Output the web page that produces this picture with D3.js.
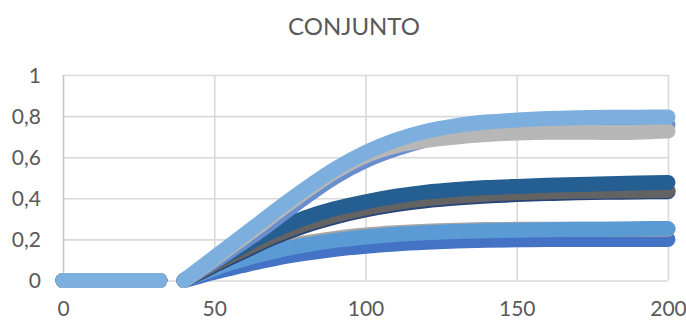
<!DOCTYPE html>
<html>
<head>
<meta charset="utf-8">
<script src="https://cdn.jsdelivr.net/npm/d3@7/dist/d3.min.js"></script>
<style>
  html, body { margin: 0; padding: 0; background: #ffffff; }
  svg { display: block; }
  text { font-family: Lato, "Open Sans", "Liberation Sans", sans-serif; fill: #595959; }
</style>
</head>
<body>
<svg id="chart" width="686" height="320"></svg>
<script>
// ---- data ----
const chartTitle = "CONJUNTO";
const xTicks = [0, 50, 100, 150, 200];
const xTickLabels = ["0", "50", "100", "150", "200"];
const yTicks = [0, 0.2, 0.4, 0.6, 0.8, 1];
const yTickLabels = ["0", "0,2", "0,4", "0,6", "0,8", "1"];

// idle stretch before the rise
const flatX = [0, 8, 16, 24, 32];
const flatY = [0, 0, 0, 0, 0];

// rising stretch
const riseX = [40, 45, 50, 55, 60, 65, 70, 80, 90, 100, 110, 120, 130, 140, 150, 160, 170, 180, 190, 200];

const royal   = [0, 0.020, 0.040, 0.058, 0.075, 0.092, 0.107, 0.132, 0.152, 0.167, 0.178, 0.186, 0.192, 0.196, 0.198, 0.199, 0.200, 0.200, 0.200, 0.200];
const silver  = [0, 0.033, 0.065, 0.092, 0.116, 0.137, 0.155, 0.183, 0.205, 0.221, 0.232, 0.240, 0.245, 0.248, 0.249, 0.250, 0.250, 0.250, 0.250, 0.250];
const sky     = [0, 0.030, 0.058, 0.083, 0.105, 0.125, 0.143, 0.172, 0.195, 0.212, 0.224, 0.232, 0.238, 0.242, 0.245, 0.247, 0.249, 0.250, 0.252, 0.253];
const navy    = [0, 0.036, 0.073, 0.108, 0.143, 0.178, 0.211, 0.266, 0.309, 0.343, 0.369, 0.388, 0.401, 0.411, 0.418, 0.423, 0.427, 0.429, 0.431, 0.432];
const graphite= [0, 0.040, 0.080, 0.117, 0.152, 0.187, 0.220, 0.275, 0.318, 0.352, 0.378, 0.397, 0.410, 0.420, 0.427, 0.431, 0.434, 0.436, 0.437, 0.438];
const steel   = [0, 0.045, 0.090, 0.130, 0.170, 0.210, 0.245, 0.305, 0.350, 0.383, 0.410, 0.430, 0.443, 0.452, 0.458, 0.463, 0.467, 0.471, 0.474, 0.477];
const cornflower = [0, 0.046, 0.092, 0.140, 0.190, 0.240, 0.295, 0.405, 0.505, 0.583, 0.640, 0.684, 0.715, 0.735, 0.748, 0.755, 0.758, 0.758, 0.758, 0.758];
const ash     = [0, 0.052, 0.105, 0.158, 0.212, 0.267, 0.323, 0.431, 0.530, 0.607, 0.655, 0.682, 0.698, 0.710, 0.718, 0.722, 0.722, 0.720, 0.722, 0.727];
const azure   = [0, 0.056, 0.112, 0.168, 0.224, 0.280, 0.337, 0.445, 0.543, 0.623, 0.683, 0.726, 0.754, 0.771, 0.781, 0.788, 0.792, 0.794, 0.795, 0.796];

// painted bottom to top
const seriesList = [
  { values: royal,      color: "#4472C4" },
  { values: silver,     color: "#A5A5A5" },
  { values: sky,        color: "#5B9BD5" },
  { values: navy,       color: "#264478" },
  { values: graphite,   color: "#636363" },
  { values: steel,      color: "#255E91" },
  { values: cornflower, color: "#698ED0" },
  { values: ash,        color: "#B7B7B7" },
  { values: azure,      color: "#7CAFDD" }
];

// ---- layout ----
const svg = d3.select("#chart");
const plotLeft = 63, plotRight = 668, plotTop = 75, plotBottom = 280.5;

const x = d3.scaleLinear().domain([0, 200]).range([plotLeft, plotRight]);
const y = d3.scaleLinear().domain([0, 1]).range([plotBottom, plotTop]);

// title
svg.append("text")
  .attr("x", 354)
  .attr("y", 35)
  .attr("text-anchor", "middle")
  .style("font-size", "24px")
  .text(chartTitle);

// horizontal gridlines + y labels
const yAxis = d3.axisLeft(y)
  .tickValues(yTicks)
  .tickSize(-(plotRight - plotLeft))
  .tickPadding(22)
  .tickFormat((d, i) => yTickLabels[i]);
const gy = svg.append("g").attr("transform", `translate(${plotLeft},0)`).call(yAxis);
gy.select(".domain").remove();
gy.selectAll(".tick line").attr("stroke", "#d9d9d9").attr("stroke-width", 1.6);
gy.selectAll(".tick text").style("font-size", "21px").attr("fill", "#595959").attr("dy", "0.35em");

// vertical gridlines + x labels
const xAxis = d3.axisBottom(x)
  .tickValues(xTicks)
  .tickSize(-(plotBottom - plotTop))
  .tickPadding(21)
  .tickFormat((d, i) => xTickLabels[i]);
const gx = svg.append("g").attr("transform", `translate(0,${plotBottom})`).call(xAxis);
gx.select(".domain").remove();
gx.selectAll(".tick line").attr("stroke", "#d9d9d9").attr("stroke-width", 1.6);
gx.selectAll(".tick text").style("font-size", "21px").attr("fill", "#595959").attr("dy", "0.71em");
// left edge slightly darker
gx.selectAll(".tick line").filter(d => d === 0).attr("stroke", "#c6c6c6");

// series
const line = d3.line()
  .x(d => x(d[0]))
  .y(d => y(d[1]))
  .curve(d3.curveMonotoneX);

const plot = svg.append("g");
seriesList.forEach(s => {
  const segs = [
    d3.zip(flatX, flatY),
    d3.zip(riseX, s.values)
  ];
  segs.forEach(seg => {
    plot.append("path")
      .attr("d", line(seg))
      .attr("fill", "none")
      .attr("stroke", s.color)
      .attr("stroke-width", 15)
      .attr("stroke-linecap", "round")
      .attr("stroke-linejoin", "round");
  });
});
</script>
</body>
</html>
